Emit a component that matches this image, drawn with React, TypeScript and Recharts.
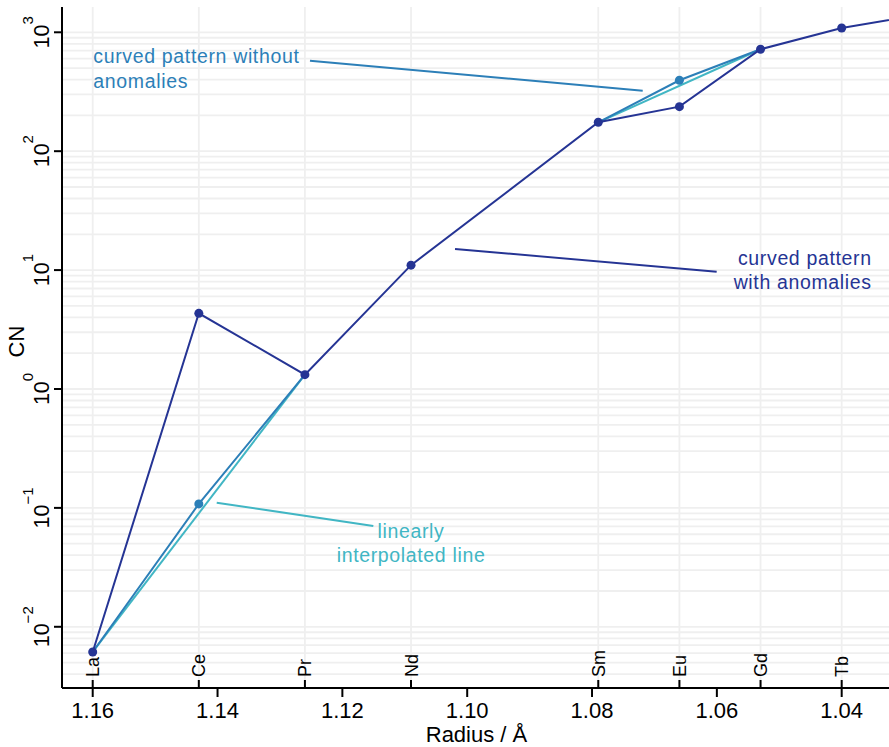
import React from 'react';
import {
  ComposedChart, Line, XAxis, YAxis, CartesianGrid, ReferenceLine, ReferenceDot,
} from 'recharts';

// ---- data ----
const elements = ['La', 'Ce', 'Pr', 'Nd', 'Sm', 'Eu', 'Gd', 'Tb', 'Dy'];
const radii = [1.160, 1.143, 1.126, 1.109, 1.079, 1.066, 1.053, 1.040, 1.027];
const cnWithAnomalies = [0.00614, 4.33, 1.32, 11.0, 175, 237, 720, 1087, 1420];
const cnWithoutAnomalies = [0.00614, 0.108, 1.32, null, 175, 395, 720, null, null];
const linearSegments = [
  [0, 2],
  [4, 6],
];
const radiusTicks = [1.16, 1.14, 1.12, 1.10, 1.08, 1.06, 1.04];
const cnTicks = [0.01, 0.1, 1, 10, 100, 1000];
const elementTickCount = 8; // La..Tb shown on axis

// annotations (data coordinates)
const annSmooth = { x: 1.1599, y: 548, lines: ['curved pattern without', 'anomalies'] };
const annAnom = { x: 1.03519, y: 11.04, lines: ['curved pattern', 'with anomalies'] };
const annLinear = { x: 1.109, y: 0.0558, lines: ['linearly', 'interpolated line'] };
const leaderSmooth = [{ x: 1.12519, y: 577 }, { x: 1.07188, y: 323 }];
const leaderAnom = [{ x: 1.10195, y: 15.05 }, { x: 1.06003, y: 9.69 }];
const leaderLinear = [{ x: 1.14013, y: 0.1107 }, { x: 1.11504, y: 0.0705 }];

const X_DOMAIN: [number, number] = [1.03242, 1.16492];
const Y_DOMAIN: [number, number] = [0.003056, 1632];

const NAVY = '#253494';
const STEEL = '#2c7fb8';
const CYAN = '#41b6c4';
const FONT = '"Liberation Sans", Arial, Helvetica, sans-serif';

const anomData = radii.map((r, i) => ({ r, v: cnWithAnomalies[i] }));
const smoothData = radii
  .map((r, i) => ({ r, v: cnWithoutAnomalies[i], i }))
  .slice(0, 7);
const linearData = linearSegments.map(([a, b]) => [
  { r: radii[a], v: cnWithAnomalies[a] },
  { r: radii[b], v: cnWithAnomalies[b] },
]);

const elementRadii = radii.slice(0, elementTickCount);
const allXTicks = Array.from(new Set([...radiusTicks, ...elementRadii])).sort((a, b) => b - a);

const gridY: number[] = [];
for (let k = -3; k <= 3; k++) {
  for (let m = 1; m <= 9; m++) {
    const v = m * Math.pow(10, k);
    if (v > Y_DOMAIN[0] && v < Y_DOMAIN[1]) gridY.push(v);
  }
}

const near = (a: number, b: number) => Math.abs(a - b) < 1e-9;

const XTick = (props: any) => {
  const { x, y, payload } = props;
  const v = payload.value;
  const isNum = radiusTicks.some((t) => near(t, v));
  const elIdx = elementRadii.findIndex((t) => near(t, v));
  return (
    <g>
      {isNum && <line x1={x} y1={y} x2={x} y2={y + 9} stroke="#000" strokeWidth={2} />}
      {isNum && (
        <text x={x} y={y + 30} textAnchor="middle" fontSize={22} fill="#000" fontFamily={FONT}>
          {v.toFixed(2)}
        </text>
      )}
      {elIdx >= 0 && <line x1={x} y1={y} x2={x} y2={y - 8} stroke="#000" strokeWidth={2} />}
      {elIdx >= 0 && (
        <text
          transform={`translate(${x + 6.5},${y - 11}) rotate(-90)`}
          textAnchor="start"
          fontSize={18}
          fill="#000"
          fontFamily={FONT}
        >
          {elements[elIdx]}
        </text>
      )}
    </g>
  );
};

const YTick = (props: any) => {
  const { x, y, payload } = props;
  const exp = Math.round(Math.log10(payload.value));
  const expStr = exp < 0 ? '\u2212' + Math.abs(exp) : String(exp);
  return (
    <text
      transform={`translate(${x - 5.5},${y}) rotate(-90)`}
      textAnchor="middle"
      fontSize={21.5}
      fill="#000"
      fontFamily={FONT}
    >
      <tspan>10</tspan>
      <tspan dy={-16} fontSize={15}>{expStr}</tspan>
    </text>
  );
};

const makeAnnotation = (lines: string[], color: string, anchor: 'start' | 'middle' | 'end') => (p: any) => {
  const { cx, cy } = p;
  return (
    <text
      x={cx}
      y={cy}
      textAnchor={anchor}
      fontSize={19.5}
      letterSpacing={0.65}
      fill={color}
      fontFamily={FONT}
    >
      {lines.map((l, i) => (
        <tspan key={i} x={cx} dy={i === 0 ? 0 : 24.3}>
          {l}
        </tspan>
      ))}
    </text>
  );
};

const dot = (color: string) => (p: any) => {
  const { cx, cy, payload, index } = p;
  if (payload == null || payload.v == null || cx == null || cy == null) return <g key={index} />;
  return <circle key={index} cx={cx} cy={cy} r={4.5} fill={color} stroke="none" />;
};

const smoothDot = (p: any) => {
  const { cx, cy, payload, index } = p;
  if (!payload || (payload.i !== 1 && payload.i !== 5) || cx == null) return <g key={index} />;
  return <circle key={index} cx={cx} cy={cy} r={4.5} fill={STEEL} stroke="none" />;
};

export default function App() {
  return (
    <div style={{ position: 'absolute', left: 0, top: 0, width: 889, height: 747, background: '#fff' }}>
      <ComposedChart
        width={889}
        height={747}
        margin={{ top: 7, right: 0, bottom: 0, left: 0 }}
        style={{ fontFamily: FONT }}
      >
        <CartesianGrid
          stroke="#efefef"
          strokeWidth={1.8}
          horizontalValues={gridY}
          verticalValues={elementRadii}
        />
        <XAxis
          dataKey="r"
          type="number"
          domain={X_DOMAIN}
          reversed
          allowDataOverflow
          ticks={allXTicks}
          interval={0}
          height={59}
          tickSize={0}
          tickMargin={0}
          tickLine={false}
          axisLine={{ stroke: '#000', strokeWidth: 2 }}
          tick={<XTick />}
          label={{
            content: (p: any) => {
              const vb = p.viewBox;
              return (
                <text x={vb.x + vb.width / 2 + 1} y={vb.y + 53.5} textAnchor="middle" fontSize={22} fill="#000" fontFamily={FONT}>
                  Radius / Å
                </text>
              );
            },
          }}
        />
        <XAxis
          xAxisId="top"
          orientation="top"
          type="number"
          domain={X_DOMAIN}
          reversed
          allowDataOverflow
          height={0}
          tick={false}
          tickLine={false}
          axisLine={{ stroke: '#000', strokeWidth: 2 }}
        />
        <YAxis
          type="number"
          scale="log"
          domain={Y_DOMAIN}
          allowDataOverflow
          ticks={cnTicks}
          interval={0}
          width={62}
          tickSize={8}
          tickMargin={0}
          tickLine={{ stroke: '#000', strokeWidth: 2 }}
          axisLine={{ stroke: '#000', strokeWidth: 2 }}
          tick={<YTick />}
          label={{
            content: (p: any) => {
              const vb = p.viewBox;
              return (
                <text
                  transform={`translate(${vb.x + 24},${vb.y + vb.height / 2 - 6}) rotate(-90)`}
                  textAnchor="middle"
                  fontSize={22}
                  fill="#000"
                  fontFamily={FONT}
                >
                  CN
                </text>
              );
            },
          }}
        />

        <ReferenceLine segment={leaderSmooth} stroke={STEEL} strokeWidth={2} />
        <ReferenceLine segment={leaderAnom} stroke={NAVY} strokeWidth={2} />
        <ReferenceLine segment={leaderLinear} stroke={CYAN} strokeWidth={2} />

        {linearData.map((d, i) => (
          <Line
            key={'lin' + i}
            data={d}
            dataKey="v"
            type="linear"
            stroke={CYAN}
            strokeWidth={2}
            dot={false}
            activeDot={false}
            isAnimationActive={false}
          />
        ))}
        <Line
          data={smoothData}
          dataKey="v"
          type="linear"
          stroke={STEEL}
          strokeWidth={2}
          dot={smoothDot}
          activeDot={false}
          connectNulls={false}
          isAnimationActive={false}
        />
        <Line
          data={anomData}
          dataKey="v"
          type="linear"
          stroke={NAVY}
          strokeWidth={2}
          dot={dot(NAVY)}
          activeDot={false}
          isAnimationActive={false}
        />

        <ReferenceDot x={annSmooth.x} y={annSmooth.y} r={0} shape={makeAnnotation(annSmooth.lines, STEEL, 'start')} />
        <ReferenceDot x={annAnom.x} y={annAnom.y} r={0} shape={makeAnnotation(annAnom.lines, NAVY, 'end')} />
        <ReferenceDot x={annLinear.x} y={annLinear.y} r={0} shape={makeAnnotation(annLinear.lines, CYAN, 'middle')} />
      </ComposedChart>
    </div>
  );
}
